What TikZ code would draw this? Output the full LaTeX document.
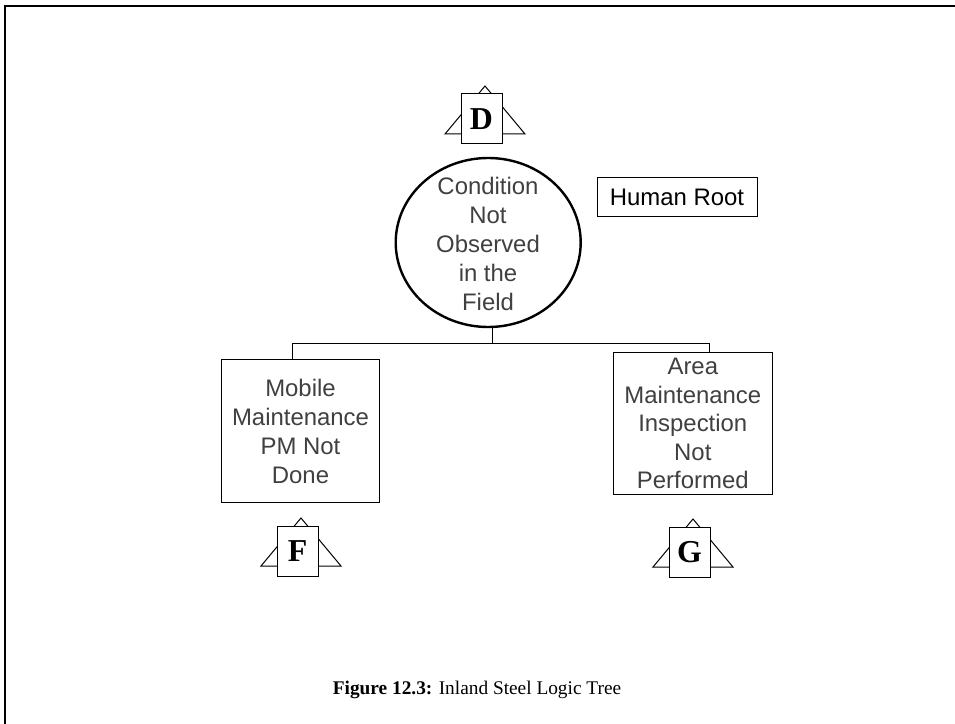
\documentclass[tikz,border=0pt]{standalone}
\usepackage{fontspec}
\setmainfont{Liberation Serif}
\newfontfamily\arialf{Liberation Sans}
\usetikzlibrary{shapes.geometric}
\definecolor{inkgray}{RGB}{64,64,64}
\tikzset{
  x=1bp,y=-1bp,
  frameline/.style={draw=black,line width=2bp},
  treeline/.style={draw=black,line width=1bp},
  boxnode/.style={draw=black,line width=1bp,fill=white,rectangle,inner sep=0pt,align=center,font=\arialf\fontsize{24}{29.2}\selectfont,text=inkgray},
  tagbox/.style={draw=black,line width=1bp,fill=white,rectangle,inner sep=0pt,minimum width=41bp,minimum height=50bp,font=\bfseries\fontsize{32}{32}\selectfont},
  tritag/.style={draw=black,line width=1bp},
  rootnode/.style={draw=black,line width=2.4bp,ellipse,fill=white,minimum width=185bp,minimum height=169bp,inner sep=0pt},
  roottext/.style={inner sep=0pt,align=center,font=\arialf\fontsize{24}{29.2}\selectfont,text=inkgray},
}
\newcommand{\tagmark}[4]{% name, box centre x, box centre y, letter
  \coordinate (#1a) at (#2+3.5,#3-33);
  \coordinate (#1l) at (#2-36.5,#3+15);
  \coordinate (#1r) at (#2+43.5,#3+15);
  \draw[tritag] (#1a) -- (#1l) -- (#1r) -- cycle;
  \node[tagbox] (#1) at (#2,#3) {\raisebox{-1bp}{#4}};
}
\begin{document}
\begin{tikzpicture}
\useasboundingbox (0,0) rectangle (955,724);
\coordinate (c1) at (5,724);
\coordinate (c2) at (5,6);
\coordinate (c3) at (955,6);
\draw[frameline] (c1) -- (c2) -- (c3);
\node[rootnode] (root) at (488.2,242.5) {};
\node[roottext] (roottext) at (488,244) {Condition\\Not\\Observed\\in the\\Field};
\node[boxnode,minimum width=160bp,minimum height=39.5bp,text=black] (human) at (677,197) {Human Root};
\node[boxnode,minimum width=158.5bp,minimum height=142.7bp] (mobile) at (300.5,431.3) {Mobile\\Maintenance\\PM Not\\Done};
\node[boxnode,minimum width=158.5bp,minimum height=142.5bp,font=\arialf\fontsize{24}{28.6}\selectfont] (area) at (692.8,423.7) {Area\\Maintenance\\Inspection\\Not\\Performed};
\coordinate (bus) at (492.5,343);
\coordinate (dropm) at (292.5,360);
\coordinate (dropa) at (709,352.5);
\draw[treeline] (root.south -| bus) -- (bus);
\draw[treeline] (dropm) |- (bus);
\draw[treeline] (dropa) |- (bus);
\tagmark{tagd}{481.5}{119}{D}
\tagmark{tagf}{297.5}{551}{F}
\tagmark{tagg}{689.5}{552}{G}
\node[font=\fontsize{19.4}{22}\selectfont] (cap) at (477,690) {\textbf{Figure 12.3:} Inland Steel Logic Tree};
\end{tikzpicture}
\end{document}
